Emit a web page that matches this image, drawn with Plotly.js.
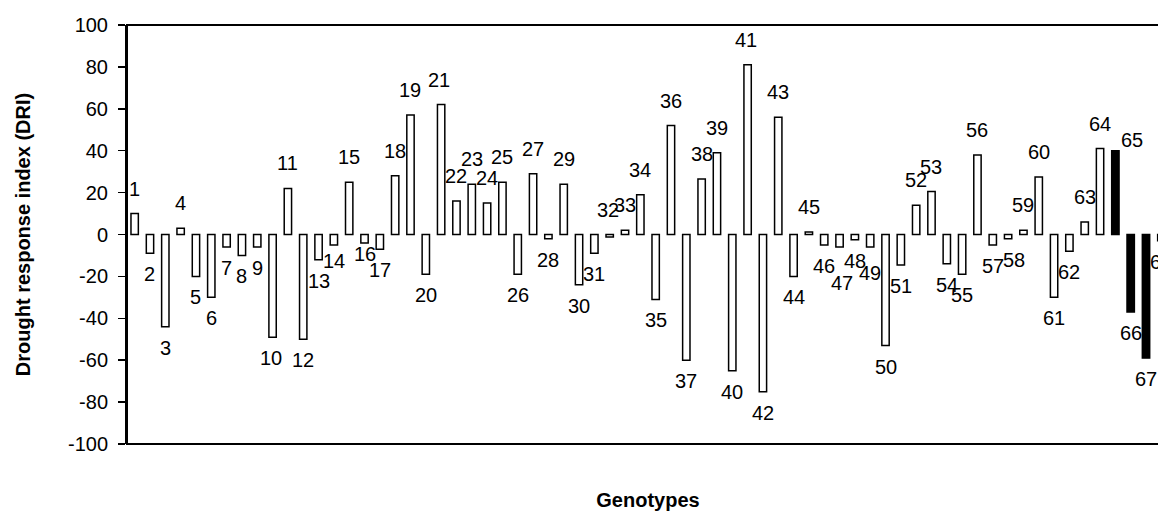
<!DOCTYPE html>
<html>
<head>
<meta charset="utf-8">
<script src="https://cdn.plot.ly/plotly-3.0.1.min.js"></script>
<style>
html, body { margin: 0; padding: 0; overflow: hidden; background: #fff; }
#chart { width: 1200px; height: 511px; }
</style>
</head>
<body>
<div id="chart"></div>
<script>
// Genotype numbers (categories)
const genotypes = Array.from({length: 68}, (_, i) => i + 1);
// Drought response index values
const dri = [
  10, -9, -44, 3, -20, -30, -6, -10, -6, -49,
  22, -50, -12, -5, 25, -4, -7, 28, 57, -19,
  62, 16, 24, 15, 25, -19, 29, -2, 24, -24,
  -9, -1.2, 2, 19, -31, 52, -60, 26.5, 39, -65,
  81, -75, 56, -20, 1.2, -5, -6, -2.5, -6, -53,
  -14.5, 14, 20.5, -14, -19, 38, -5, -2, 2, 27.5,
  -30, -8, 6, 41, 40, -37, -59, -3
];
// Check genotypes drawn in black
const checkGenotypes = [65, 66, 67, 68];
// Y-axis tick values
const yTicks = [-100, -80, -60, -40, -20, 0, 20, 40, 60, 80, 100];

// Label placement tweaks (pixels) for labels moved by hand in the original
const labelTweaks = {
  10: {dx: -2}, 14: {dy: -16}, 16: {dy: -11.5}, 21: {dx: -2},
  32: {dx: -2, dy: 27}, 41: {dx: -2}, 47: {dx: 2, dy: -36},
  49: {dy: -26}, 58: {dx: 6}, 65: {dx: 17, dy: 11}
};

const font = 'Arial, "Liberation Sans", sans-serif';

const barColors = genotypes.map(g => checkGenotypes.includes(g) ? '#000000' : '#ffffff');

const trace = {
  type: 'bar',
  x: genotypes,
  y: dri,
  width: 0.48,
  marker: { color: barColors, line: { color: '#000000', width: 1.5 } },
  hoverinfo: 'x+y',
  showlegend: false
};

const annotations = genotypes.map((g, i) => {
  const v = dri[i];
  const t = labelTweaks[g] || {};
  return {
    x: g, y: v, xref: 'x', yref: 'y',
    text: String(g), showarrow: false,
    xanchor: 'center', yanchor: 'middle',
    xshift: t.dx || 0,
    yshift: (t.dy !== undefined) ? t.dy : (v >= 0 ? 25 : -21),
    font: { family: font, size: 20, color: '#000' }
  };
});

const boundaries = genotypes.map(g => g - 0.5).concat([genotypes.length + 0.5]);

const layout = {
  width: 1200,
  height: 511,
  margin: { l: 127, r: 31, t: 25, b: 67 },
  paper_bgcolor: '#ffffff',
  plot_bgcolor: '#ffffff',
  font: { family: font, size: 20, color: '#000' },
  xaxis: {
    range: [0.5, genotypes.length + 0.5],
    showticklabels: false, ticks: '', showgrid: false, zeroline: false, showline: false,
    title: { text: 'Genotypes', font: { family: font, size: 20, color: '#000', weight: 'bold' }, standoff: 51 }
  },
  xaxis2: {
    overlaying: 'x', anchor: 'free', position: 0.5,
    range: [0.5, genotypes.length + 0.5],
    tickmode: 'array', tickvals: boundaries, ticktext: boundaries.map(() => ''),
    ticks: 'outside', ticklen: 6, tickwidth: 1, tickcolor: '#000',
    showticklabels: false, showgrid: false, zeroline: false,
    showline: true, linecolor: '#000', linewidth: 1.5
  },
  yaxis: {
    range: [-100, 100],
    tickmode: 'array', tickvals: yTicks, ticktext: yTicks.map(String),
    ticks: 'outside', ticklen: 7, tickwidth: 1.5, tickcolor: '#000',
    ticklabelstandoff: 6,
    showline: true, linecolor: '#000', linewidth: 2,
    showgrid: false, zeroline: false,
    tickfont: { family: font, size: 20, color: '#000' },
    title: { text: 'Drought response index (DRI)', font: { family: font, size: 20, color: '#000', weight: 'bold' }, standoff: 32 }
  },
  shapes: [{
    type: 'rect', xref: 'paper', yref: 'paper', x0: 0, x1: 1, y0: 0, y1: 1,
    line: { color: '#000', width: 2 }, fillcolor: 'rgba(0,0,0,0)', layer: 'above'
  }],
  annotations: annotations,
  bargap: 0.5
};

Plotly.newPlot('chart', [trace], layout, { displayModeBar: false, staticPlot: true });
</script>
</body>
</html>
